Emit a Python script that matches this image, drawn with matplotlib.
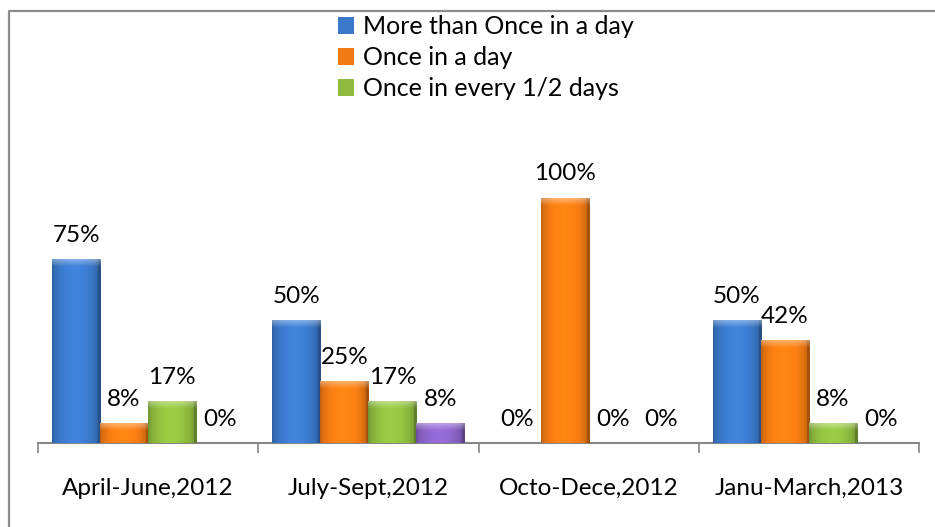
import numpy as np
import matplotlib
matplotlib.use("Agg")
import matplotlib.pyplot as plt
from matplotlib.lines import Line2D
from matplotlib.colors import to_rgb

plt.rcParams['font.family'] = ['Lato', 'DejaVu Sans']

# ---- data -------------------------------------------------------------
periods = ["April-June,2012", "July-Sept,2012", "Octo-Dece,2012", "Janu-March,2013"]
series_names = ["More than Once in a day", "Once in a day", "Once in every 1/2 days", "Other"]
more_than_once = [75, 50, 0, 50]
once_a_day = [8, 25, 100, 42]
every_two_days = [17, 17, 0, 8]
other = [0, 8, 0, 0]
series_values = [more_than_once, once_a_day, every_two_days, other]
series_colors = ["#3a78c9", "#f27a12", "#8dbb3e", "#8a62c6"]
show_in_legend = [True, True, True, False]

# ---- figure / axes geometry ---------------------------------------------
W, H, DPI = 935, 527, 100
fig = plt.figure(figsize=(W / DPI, H / DPI), dpi=DPI)
fig.patch.set_facecolor("white")

ax_left, ax_right = 38, 919       # pixel columns of the category axis
ax_base, ax_top = 443, 198        # pixel rows of 0% and 100%
ax = fig.add_axes([ax_left / W, (H - ax_base) / H,
                   (ax_right - ax_left) / W, (ax_base - ax_top) / H])
ax.set_facecolor("none")

n_groups = len(periods)
n_series = len(series_values)
bar_w = 0.218
x = np.arange(n_groups)
px_per_unit = ax_base - ax_top   # pixels per 100 %


def shade_bar(rect, color):
    """Overlay a soft bevel/gradient on a bar."""
    x0, w = rect.get_x(), rect.get_width()
    h = rect.get_height()
    if h <= 0:
        return
    base = np.array(to_rgb(color))
    hpx = max(int(round(h / 100 * px_per_unit)), 2)
    cols = 48
    t = np.linspace(0, 1, cols)
    # horizontal light profile: bright left-centre, darker edges
    prof = 0.80 + 0.30 * np.sin(np.pi * np.clip(t * 1.05, 0, 1)) ** 0.6
    prof[-3:] *= 0.85
    img = np.ones((hpx, cols, 3)) * base
    img = img * prof[None, :, None]
    # light rounded cap on top
    d = np.arange(hpx)[:, None]
    cap = np.clip(1 - d / 7.0, 0, 1) * 0.35
    img = img + (1 - img) * cap[:, :, None]
    img = np.clip(img, 0, 1)
    ax.imshow(img, extent=(x0, x0 + w, 0, h), origin="upper",
              aspect="auto", interpolation="bilinear", zorder=3)


for i, (vals, color, name, leg) in enumerate(zip(series_values, series_colors,
                                                 series_names, show_in_legend)):
    offs = (i - (n_series - 1) / 2) * bar_w
    bars = ax.bar(x + offs, vals, bar_w, color=color,
                  label=name if leg else "_nolegend_", zorder=2)
    for rect, v in zip(bars, vals):
        shade_bar(rect, color)
        ax.annotate(f"{v}%", (rect.get_x() + rect.get_width() / 2, v),
                    xytext=(0, 24), textcoords="offset pixels",
                    ha="center", va="center", fontsize=17.5, color="black",
                    annotation_clip=False)

ax.set_xlim(-0.5, n_groups - 0.5)
ax.set_ylim(0, 100)

# category axis
for s in ("left", "right", "top"):
    ax.spines[s].set_visible(False)
ax.spines["bottom"].set_color("#868686")
ax.spines["bottom"].set_linewidth(1.5)
ax.set_yticks([])
ax.set_xticks(np.arange(-0.5, n_groups, 1.0), minor=False)
ax.set_xticklabels([])
ax.tick_params(axis="x", which="major", length=7, width=1.2, color="#868686",
               direction="out")
ax.set_xticks(x, minor=True)
ax.set_xticklabels(periods, minor=True, fontsize=17.5)
ax.tick_params(axis="x", which="minor", length=0, pad=25)

# legend
handles, labels = ax.get_legend_handles_labels()
fig.legend(handles, labels, loc="upper left",
           bbox_to_anchor=(328 / W, 1 - 5 / H), frameon=False,
           fontsize=18, handlelength=0.65, handleheight=0.65,
           handletextpad=0.35, labelspacing=0.32, borderaxespad=0)

# outer chart frame (left and top edges visible)
fig.add_artist(Line2D([9 / W, 9 / W, 1.0], [0.0, 1 - 11 / H, 1 - 11 / H],
                      transform=fig.transFigure, color="#8c8c8c", lw=1.6))

fig.savefig("out.png", dpi=DPI)
